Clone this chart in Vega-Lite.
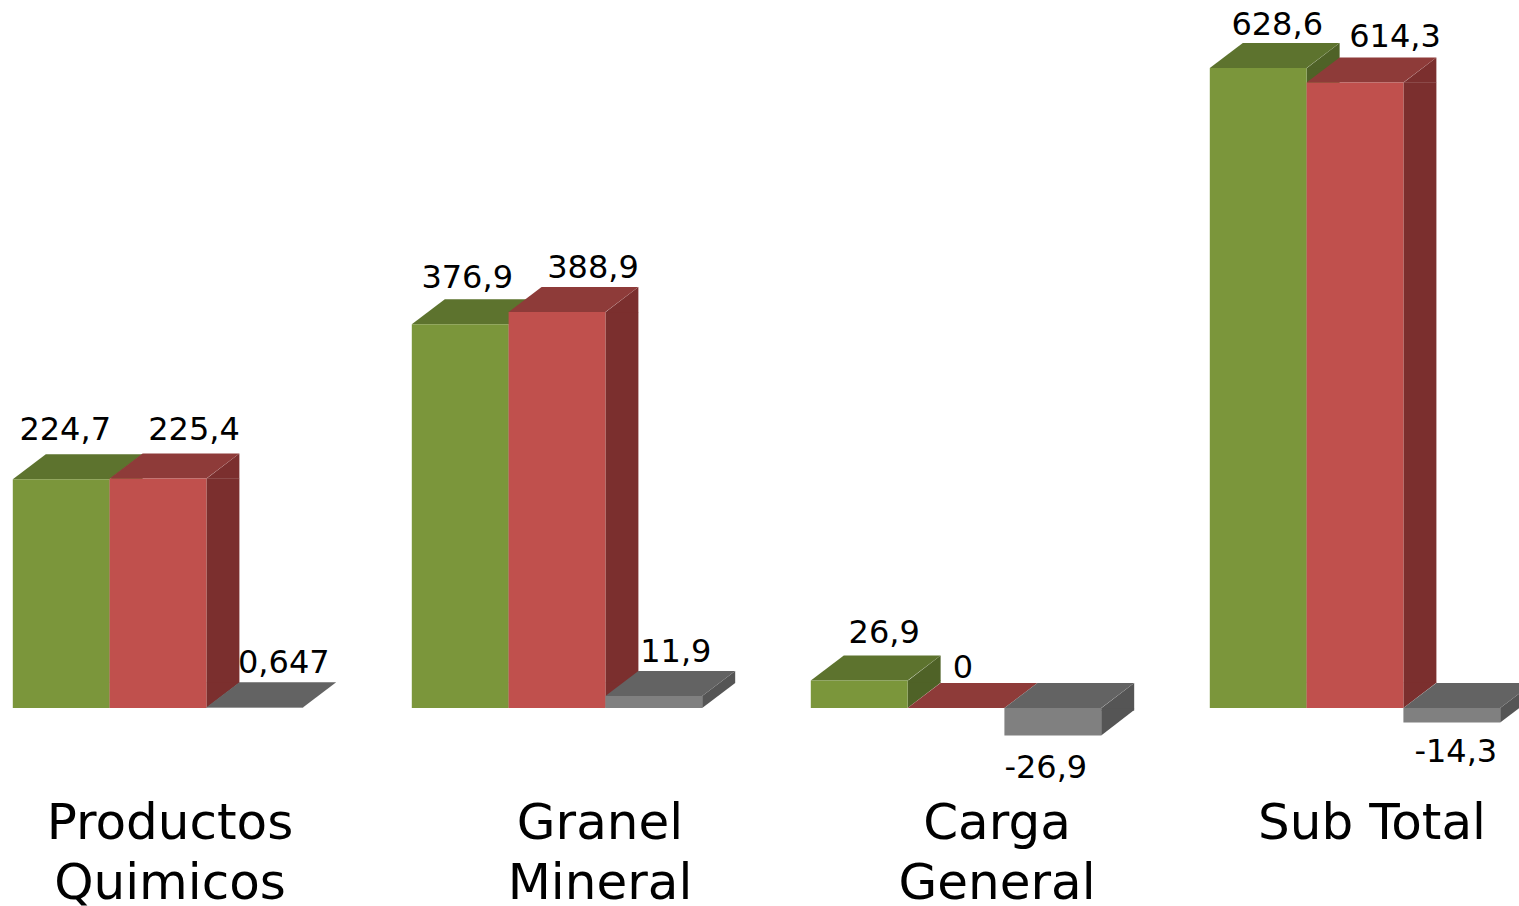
{
"$schema":"https://vega.github.io/schema/vega-lite/v6.json",
"width":1519,"height":775,
"autosize":{"type":"none"},
"padding":{"left":0,"top":0,"right":0,"bottom":131},
"background":"white",
"config":{"view":{"stroke":null}},
"data":{"values":[
{"group":"Productos Quimicos","series":"A","value":224.7,"upper":224.7,"lower":0,"label":"224,7"},
{"group":"Productos Quimicos","series":"B","value":225.4,"upper":225.4,"lower":0,"label":"225,4"},
{"group":"Productos Quimicos","series":"C","value":0.647,"upper":0.647,"lower":0,"label":"0,647"},
{"group":"Granel Mineral","series":"A","value":376.9,"upper":376.9,"lower":0,"label":"376,9"},
{"group":"Granel Mineral","series":"B","value":388.9,"upper":388.9,"lower":0,"label":"388,9"},
{"group":"Granel Mineral","series":"C","value":11.9,"upper":11.9,"lower":0,"label":"11,9"},
{"group":"Carga General","series":"A","value":26.9,"upper":26.9,"lower":0,"label":"26,9"},
{"group":"Carga General","series":"B","value":0,"upper":0,"lower":0,"label":"0"},
{"group":"Carga General","series":"C","value":-26.9,"upper":0,"lower":-26.9,"label":"-26,9"},
{"group":"Sub Total","series":"A","value":628.6,"upper":628.6,"lower":0,"label":"628,6"},
{"group":"Sub Total","series":"B","value":614.3,"upper":614.3,"lower":0,"label":"614,3"},
{"group":"Sub Total","series":"C","value":-14.3,"upper":0,"lower":-14.3,"label":"-14,3"}
]},
"encoding":{
"x":{"field":"group","type":"nominal","sort":null,"title":null,
"scale":{"range":[-41.5,1554.5],"paddingInner":0,"paddingOuter":0},
"axis":{"domain":false,"ticks":false,"grid":false,"labelAngle":0,"labelFont":"DejaVu Sans","labelFontSize":50,"labelColor":"#000000","labelPadding":23,"labelLineHeight":60,"labelOverlap":false,"labelBound":false,"labelFlush":false,"labelLimit":0,"labelBaseline":"top",
"labelExpr":"datum.value=='Sub Total'?datum.value:split(datum.value,' ')",
"labelOffset":{"expr":"datum.value=='Productos Quimicos'?12:datum.value=='Granel Mineral'?43:datum.value=='Carga General'?41:17"}}},
"xOffset":{"field":"series","type":"nominal","sort":null,"scale":{"type":"band","domain":["A","B","C"],"range":[0,399],"paddingInner":0,"paddingOuter":0.561}}
},
"layer":[
{"transform":[{"filter":"datum.upper-datum.lower>25"}],
"mark":{"type":"bar","width":33,"y2Offset":-25},
"encoding":{"xOffset":{"field":"series","type":"nominal","sort":null,"scale":{"type":"band","domain":["A","B","C"],"range":[64.9,463.9],"paddingInner":0,"paddingOuter":0.561}},
"y":{"field":"upper","type":"quantitative","axis":null,"scale":{"domain":[-65.8,695.4],"nice":false,"zero":false}},"y2":{"field":"lower"},
"color":{"field":"series","type":"nominal","legend":null,"scale":{"domain":["A","B","C"],"range":["#4F6227","#7B2F2E","#555555"]}}}},
{"transform":[{"filter":"datum.upper-datum.lower>25"}],
"mark":{"type":"point","filled":true,"opacity":1,"size":4,"strokeWidth":0,"shape":"M48.4,0.3L81.4,-25L81.4,0.3Z"},
"encoding":{"y":{"field":"upper","type":"quantitative","axis":null,"scale":{"domain":[-65.8,695.4],"nice":false,"zero":false}},
"color":{"field":"series","type":"nominal","legend":null,"scale":{"domain":["A","B","C"],"range":["#4F6227","#7B2F2E","#555555"]}}}},
{"transform":[{"filter":"datum.upper-datum.lower>25"}],
"mark":{"type":"point","filled":true,"opacity":1,"size":4,"strokeWidth":0,"shape":"M48.4,0L81.4,-25.3L48.4,-25.3Z"},
"encoding":{"y":{"field":"lower","type":"quantitative","axis":null,"scale":{"domain":[-65.8,695.4],"nice":false,"zero":false}},
"color":{"field":"series","type":"nominal","legend":null,"scale":{"domain":["A","B","C"],"range":["#4F6227","#7B2F2E","#555555"]}}}},
{"transform":[{"filter":"datum.upper-datum.lower>5 && datum.upper-datum.lower<=25"}],
"mark":{"type":"point","filled":true,"opacity":1,"size":4,"strokeWidth":0},
"encoding":{"y":{"field":"upper","type":"quantitative","axis":null,"scale":{"domain":[-65.8,695.4],"nice":false,"zero":false}},
"shape":{"field":"group","type":"nominal","legend":null,"scale":{"domain":["Granel Mineral","Sub Total"],"range":["M48.4,0L81.4,-25L81.4,-12.9L48.4,12.1Z","M48.4,0L81.4,-25L81.4,-10.4L48.4,14.6Z"]}},
"color":{"field":"series","type":"nominal","legend":null,"scale":{"domain":["A","B","C"],"range":["#4F6227","#7B2F2E","#555555"]}}}},
{"mark":{"type":"point","filled":true,"opacity":1,"size":4,"strokeWidth":0,"shape":"M-48.4,0L-15.4,-25L81.4,-25L48.4,0Z"},
"encoding":{"y":{"field":"upper","type":"quantitative","axis":null,"scale":{"domain":[-65.8,695.4],"nice":false,"zero":false}},
"color":{"field":"series","type":"nominal","legend":null,"scale":{"domain":["A","B","C"],"range":["#5D732E","#8E3B39","#636363"]}}}},
{"mark":{"type":"bar"},
"encoding":{"y":{"field":"upper","type":"quantitative","axis":null,"scale":{"domain":[-65.8,695.4],"nice":false,"zero":false}},"y2":{"field":"lower"},
"color":{"field":"series","type":"nominal","legend":null,"scale":{"domain":["A","B","C"],"range":["#7B963B","#C0504D","#808080"]}}}},
{"encoding":{"y":{"field":"value","type":"quantitative","axis":null,"scale":{"domain":[-65.8,695.4],"nice":false,"zero":false}},"text":{"field":"label"}},
"layer":[
{"transform":[{"filter":"datum.label=='224,7'"}],"mark":{"type":"text","font":"DejaVu Sans","fontSize":32,"color":"#000","dx":4,"dy":-49}},
{"transform":[{"filter":"datum.label=='225,4'"}],"mark":{"type":"text","font":"DejaVu Sans","fontSize":32,"color":"#000","dx":36,"dy":-49}},
{"transform":[{"filter":"datum.label=='0,647'"}],"mark":{"type":"text","font":"DejaVu Sans","fontSize":32,"color":"#000","dx":29,"dy":-44}},
{"transform":[{"filter":"datum.label=='376,9'"}],"mark":{"type":"text","font":"DejaVu Sans","fontSize":32,"color":"#000","dx":7,"dy":-46}},
{"transform":[{"filter":"datum.label=='388,9'"}],"mark":{"type":"text","font":"DejaVu Sans","fontSize":32,"color":"#000","dx":36,"dy":-44}},
{"transform":[{"filter":"datum.label=='11,9'"}],"mark":{"type":"text","font":"DejaVu Sans","fontSize":32,"color":"#000","dx":22,"dy":-44}},
{"transform":[{"filter":"datum.label=='26,9'"}],"mark":{"type":"text","font":"DejaVu Sans","fontSize":32,"color":"#000","dx":25,"dy":-48}},
{"transform":[{"filter":"datum.label=='0'"}],"mark":{"type":"text","font":"DejaVu Sans","fontSize":32,"color":"#000","dx":7,"dy":-40}},
{"transform":[{"filter":"datum.label=='-26,9'"}],"mark":{"type":"text","font":"DejaVu Sans","fontSize":32,"color":"#000","dx":-7,"dy":33}},
{"transform":[{"filter":"datum.label=='628,6'"}],"mark":{"type":"text","font":"DejaVu Sans","fontSize":32,"color":"#000","dx":19,"dy":-43}},
{"transform":[{"filter":"datum.label=='614,3'"}],"mark":{"type":"text","font":"DejaVu Sans","fontSize":32,"color":"#000","dx":40,"dy":-46}},
{"transform":[{"filter":"datum.label=='-14,3'"}],"mark":{"type":"text","font":"DejaVu Sans","fontSize":32,"color":"#000","dx":4,"dy":29}}
]}
],
"resolve":{"scale":{"color":"independent","xOffset":"independent"}}
}
